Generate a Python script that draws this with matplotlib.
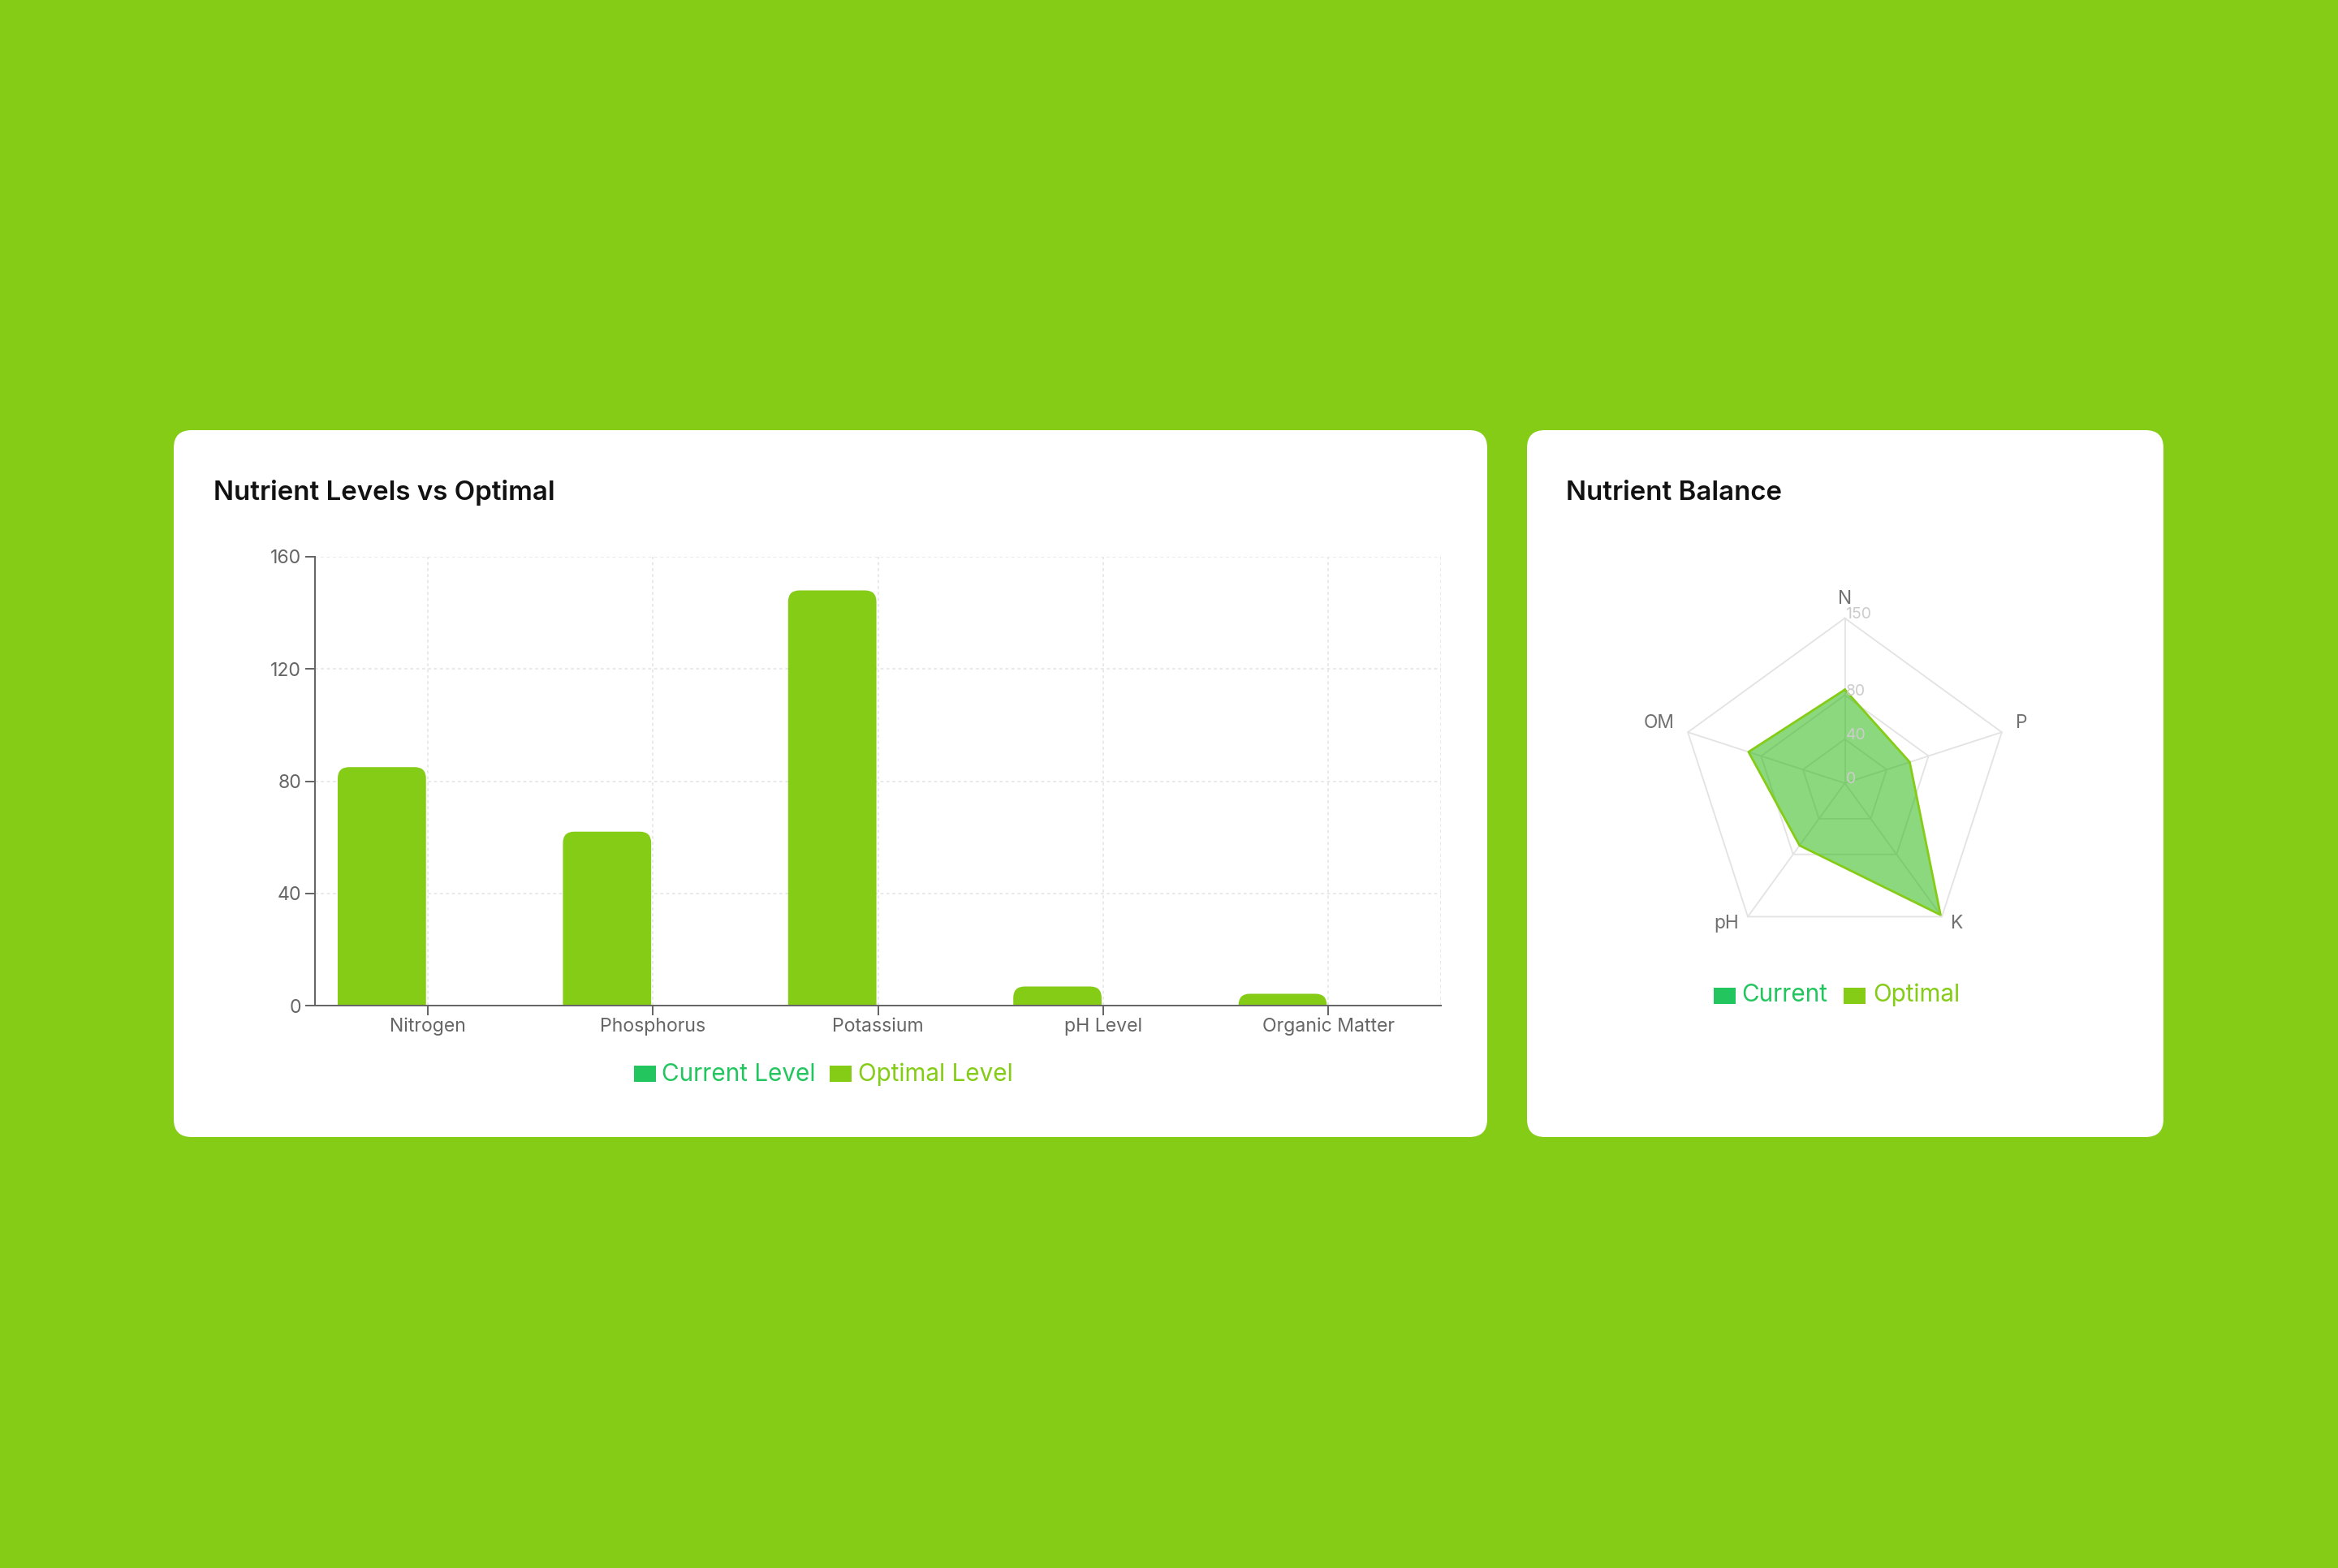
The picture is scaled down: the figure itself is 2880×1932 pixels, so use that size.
import matplotlib.pyplot as plt
from matplotlib.patches import FancyBboxPatch, Rectangle, PathPatch
from matplotlib.path import Path
from matplotlib.transforms import IdentityTransform
import numpy as np

plt.rcParams['font.family'] = ['Inter', 'DejaVu Sans']

# bar chart data
nutrients = ['Nitrogen', 'Phosphorus', 'Potassium', 'pH Level', 'Organic Matter']
levels = [85, 62, 148, 6.8, 4.2]
y_ticks = [0, 40, 80, 120, 160]

# radar data
radar_axes = ['N', 'P', 'K', 'pH', 'OM']
radar_values = [85, 62, 148, 70, 92]
radar_rings = [40, 80, 150]
radar_ticks = [0, 40, 80, 150]

BG = '#84cc16'
GREEN = '#22c55e'
LIME = '#84cc16'
GREY = '#666666'

W, H = 2880, 1932
fig = plt.figure(figsize=(W / 200, H / 200), dpi=200, facecolor=BG)
px = IdentityTransform()


def card(x0, y0, x1, y1):
    fig.add_artist(FancyBboxPatch((x0, H - y1), x1 - x0, y1 - y0,
                                  boxstyle='round,pad=0,rounding_size=22',
                                  transform=px, fc='white', ec='none', zorder=-10))


def legend_item(x, y_top, label, color, text_x, baseline):
    fig.add_artist(Rectangle((x, H - y_top - 20), 27, 20, transform=px,
                             fc=color, ec='none'))
    fig.text(text_x / W, 1 - baseline / H, label, color=color, fontsize=10.7,
             va='baseline', ha='left')


card(214, 530, 1832, 1401)
card(1881, 530, 2665, 1401)

fig.text(263 / W, 1 - 616 / H, 'Nutrient Levels vs Optimal', fontsize=11.9,
         fontweight='semibold', color='#111111', va='baseline')
fig.text(1929 / W, 1 - 616 / H, 'Nutrient Balance', fontsize=11.9,
         fontweight='semibold', color='#111111', va='baseline')

# ---- bar chart ----
ax = fig.add_axes([388 / W, 1 - 1239 / H, 1387 / W, 553 / H])
ax.set_facecolor('none')
ax.set_xlim(-0.5, 4.5)
ax.set_ylim(0, 160)
x = np.arange(len(nutrients))
ax.set_xticks(x)
ax.set_xticklabels(nutrients)
ax.set_yticks(y_ticks)
for s in ['top', 'right']:
    ax.spines[s].set_visible(False)
for s in ['left', 'bottom']:
    ax.spines[s].set_color(GREY)
    ax.spines[s].set_linewidth(0.72)
ax.tick_params(length=4.3, width=0.72, color=GREY, labelcolor=GREY, labelsize=8.3)
ax.tick_params(axis='y', pad=1.8)
ax.tick_params(axis='x', pad=1.0)
ax.grid(True, color='#e8e8e8', linestyle=(0, (2, 2)), lw=0.66)
ax.axvline(4.5, color='#e8e8e8', linestyle=(0, (2, 2)), lw=0.66)
ax.set_axisbelow(True)

bars = ax.bar(x - 0.203, levels, 0.392, color=LIME)
for rect in bars:
    x0 = rect.get_x()
    x1 = x0 + rect.get_width()
    a, b = ax.transData.transform((x0, 0))
    c, d = ax.transData.transform((x1, rect.get_height()))
    r = min(14, (c - a) / 2, d - b)
    verts = [(a, b), (a, d - r), (a, d), (a + r, d), (c - r, d), (c, d),
             (c, d - r), (c, b), (a, b)]
    codes = [Path.MOVETO, Path.LINETO, Path.CURVE3, Path.CURVE3, Path.LINETO,
             Path.CURVE3, Path.CURVE3, Path.LINETO, Path.CLOSEPOLY]
    ax.add_artist(PathPatch(Path(verts, codes), transform=px, fc=LIME,
                            ec='none', zorder=2))
    rect.set_visible(False)

legend_item(781, 1313, 'Current Level', GREEN, 815, 1332)
legend_item(1022, 1313, 'Optimal Level', LIME, 1057, 1332)

# ---- radar ----
cx, cy, R = 2272.5, 965, 203.3
k = R / 150
rax = fig.add_axes([(cx - 250) / W, 1 - (cy + 250) / H, 500 / W, 500 / H])
lim = 250 / k
rax.set_xlim(-lim, lim)
rax.set_ylim(-lim, lim)
rax.axis('off')

ang = np.deg2rad(90 - 72 * np.arange(len(radar_axes)))
closed = np.append(ang, ang[0])
for rr in radar_rings:
    rax.plot(rr * np.cos(closed), rr * np.sin(closed), color='#e3e3e3', lw=0.66,
             zorder=1)
for a in ang:
    rax.plot([0, 150 * np.cos(a)], [0, 150 * np.sin(a)], color='#e3e3e3',
             lw=0.66, zorder=1)

vals = np.append(radar_values, radar_values[0])
rax.fill(vals * np.cos(closed), vals * np.sin(closed), fc='#2eb814',
         alpha=0.55, ec='none', zorder=2)
rax.plot(vals * np.cos(closed), vals * np.sin(closed), color=LIME, lw=1.0,
         zorder=3)

d = 18 / k
up = 6 / k
for lab, a in zip(radar_axes, ang):
    c = np.cos(a)
    ha = 'center' if abs(c) < 0.1 else ('left' if c > 0 else 'right')
    rax.text((150 + d) * c, (150 + d) * np.sin(a) + up, lab, ha=ha,
             va='center', fontsize=8.2, color='#707070')
for t in radar_ticks:
    rax.text(1 / k, t + 5 / k, str(t), ha='left', va='center', fontsize=7,
             color='#cccccc', zorder=4)

legend_item(2111, 1217, 'Current', GREEN, 2145, 1234)
legend_item(2271, 1217, 'Optimal', LIME, 2307, 1234)

fig.savefig('out.png', dpi=200, facecolor=fig.get_facecolor())
